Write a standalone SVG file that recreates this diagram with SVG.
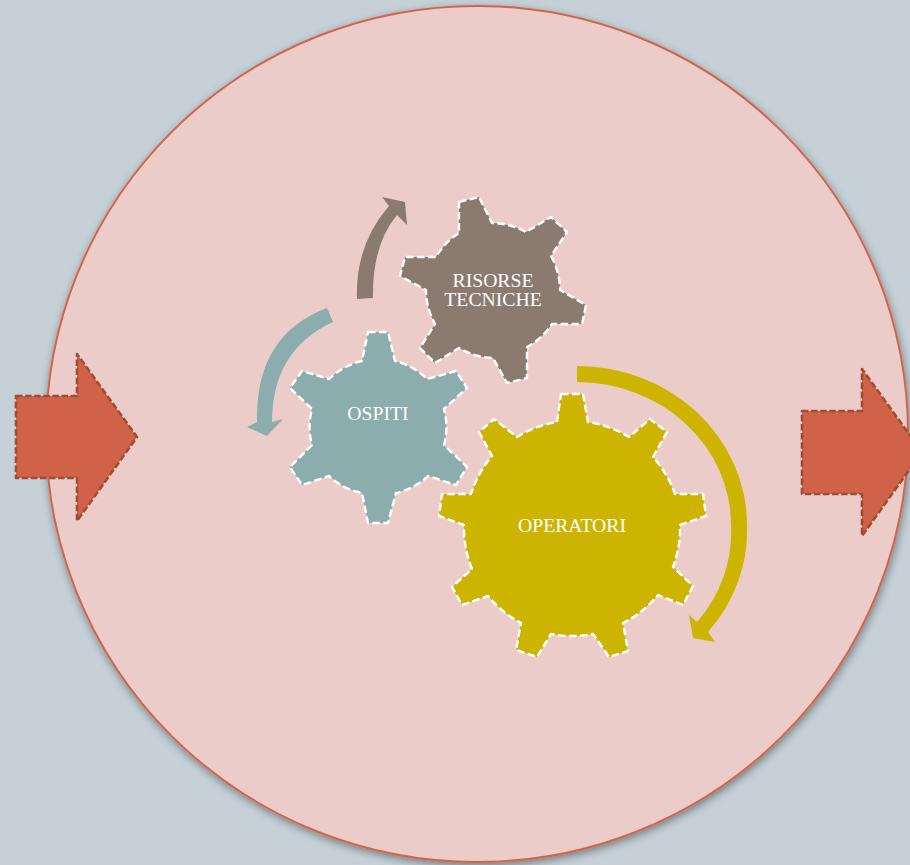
<svg xmlns="http://www.w3.org/2000/svg" width="910" height="865" viewBox="0 0 910 865">
<style>
.gear{stroke:#fff;stroke-width:2.4;stroke-dasharray:7.5 3.5;stroke-linejoin:round}
.big{fill:#D06347;stroke:#A04B36;stroke-width:2.6;stroke-dasharray:6.5 2.6;stroke-linejoin:round}
.t{font-family:"Liberation Serif",serif;font-size:19.7px;fill:#fff;text-anchor:middle}
</style>
<defs><filter id="sh" x="-5%" y="-5%" width="110%" height="110%"><feDropShadow dx="1" dy="3" stdDeviation="4" flood-color="#000" flood-opacity=".4"/></filter></defs>
<rect id="background" width="910" height="865" fill="#C5D1D7"/>
<ellipse id="outer-circle" cx="477" cy="434" rx="431" ry="428" fill="#ECCCC9" stroke="#D0654A" stroke-width="2" filter="url(#sh)"/>
<g id="arrow-in"><path class="big" d="M16,396H77V354L137,437L77,521V478H16Z"/></g>
<g id="arrow-out"><path class="big" d="M802,411H862V369L922,452L862,536V494H802Z"/></g>
<g id="connectors">
<path fill="#8B7A70" d="M357,299Q355,245 389,206L382,197L405,202L407,225L397,215Q372,245 373,298Z"/>
<path fill="#8CADAE" d="M327,308Q255,335 257,422L247,427L267,436L283,419L272,422Q272,350 333,322Z"/>
<path fill="#CCB400" d="M577,366A170 159 0 0 1 747,525A170 159 0 0 1 708,632L715,642L693,638L689,615L697,622A154 143 0 0 0 731,525A154 143 0 0 0 577,382Z"/>
</g>
<g id="risorse-tecniche">
<path class="gear" fill="#8B7A70" d="M459,202L479,197L492,223A70 70 0 0 1 526,232L551,217L567,232L551,256A70 70 0 0 1 560,290L586,305L582,324L552,324A70 70 0 0 1 527,347L527,378L507,383L493,358A70 70 0 0 1 459,348L435,363L420,348L435,324A70 70 0 0 1 426,290L400,276L405,257L436,257A70 70 0 0 1 459,233Z"/>
<text class="t" x="493" y="287">RISORSE</text><text class="t" x="493" y="306">TECNICHE</text>
</g>
<g id="ospiti">
<path class="gear" fill="#8CADAE" d="M368,332L388,332L395,361A68 68 0 0 1 427,379L456,371L467,388L444,409A68 68 0 0 1 444,445L467,467L456,485L428,476A68 68 0 0 1 396,493L388,523L368,523L362,493A68 68 0 0 1 329,476L302,485L290,467L312,445A68 68 0 0 1 312,409L290,388L302,371L329,379A68 68 0 0 1 362,361Z"/>
<text class="t" x="378" y="420">OSPITI</text>
</g>
<g id="operatori">
<path class="gear" fill="#CCB400" d="M561,394L583,394L588,422A108 108 0 0 1 629,437L650,419L667,432L653,457A108 108 0 0 1 675,494L703,494L706,516L680,525A108 108 0 0 1 673,567L693,586L683,605L658,595A108 108 0 0 1 623,623L628,651L609,657L593,634A108 108 0 0 1 551,634L537,657L516,650L521,623A108 108 0 0 1 488,596L462,605L452,587L472,569A108 108 0 0 1 464,525L439,516L442,494L471,494A108 108 0 0 1 492,456L479,432L494,419L517,437A108 108 0 0 1 557,422Z"/>
<text class="t" x="572" y="532">OPERATORI</text>
</g>
</svg>
